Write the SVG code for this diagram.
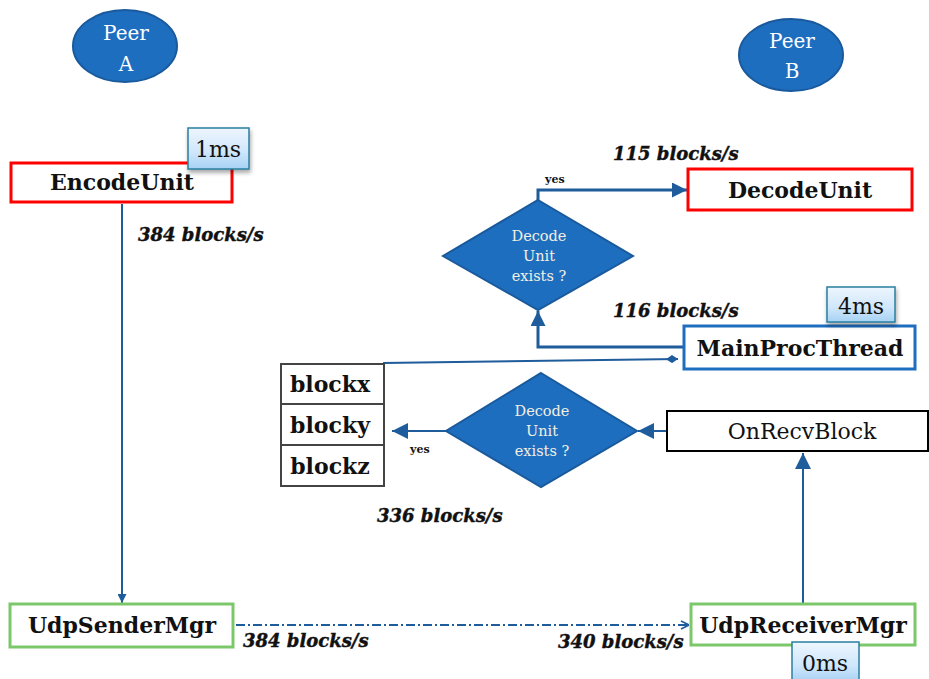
<svg xmlns="http://www.w3.org/2000/svg" width="929" height="679" viewBox="0 0 929 679">
<defs>
<linearGradient id="tag" x1="0" y1="0" x2="0" y2="1">
<stop offset="0" stop-color="#eef6fe"/>
<stop offset="0.6" stop-color="#cfe6fb"/>
<stop offset="1" stop-color="#a6d1f4"/>
</linearGradient>
<filter id="sh" x="-20%" y="-20%" width="150%" height="160%">
<feDropShadow dx="1" dy="3" stdDeviation="2" flood-color="#000" flood-opacity="0.35"/>
</filter>
<marker id="tri" viewBox="0 0 10 10" refX="10" refY="5" markerWidth="5" markerHeight="5" orient="auto" markerUnits="strokeWidth">
<path d="M0,0 L10,5 L0,10 z" fill="#1f5c9c"/>
</marker>
<marker id="tri2" viewBox="0 0 10 10" refX="10" refY="5" markerWidth="9" markerHeight="9" orient="auto" markerUnits="userSpaceOnUse">
<path d="M0,0 L10,5 L0,10 z" fill="#1f5c9c"/>
</marker>
<marker id="tri3" viewBox="0 0 10 10" refX="10" refY="5" markerWidth="16" markerHeight="16" orient="auto" markerUnits="userSpaceOnUse">
<path d="M0,0 L10,5 L0,10 z" fill="#1f5c9c"/>
</marker>
<marker id="dia" viewBox="0 0 12 8" refX="12" refY="4" markerWidth="12" markerHeight="8" orient="auto" markerUnits="userSpaceOnUse">
<path d="M0,4 L6,0 L12,4 L6,8 z" fill="#1f5c9c"/>
</marker>
<marker id="open" viewBox="0 0 10 10" refX="10" refY="5" markerWidth="10" markerHeight="10" orient="auto" markerUnits="userSpaceOnUse">
<path d="M2,1 L10,5 L2,9" fill="none" stroke="#1f5c9c" stroke-width="1.6"/>
</marker>
</defs>
<style>
.peer{fill:#1e6ec0;stroke:#1a5a9c;stroke-width:2}
.pt{font-family:"DejaVu Serif","Liberation Serif",serif;font-size:20px;fill:#ffffff;text-anchor:middle}
.box{fill:#ffffff;stroke-width:3}
.red{stroke:#ff0000}
.green{stroke:#7cc76a}
.blue{stroke:#1e6ec0}
.blk{stroke:#000000;stroke-width:2}
.gray{stroke:#444444;stroke-width:2}
.bt{font-family:"DejaVu Serif","Liberation Serif",serif;font-size:22px;font-weight:bold;fill:#111;text-anchor:middle}
.nt{font-family:"DejaVu Serif","Liberation Serif",serif;font-size:22px;fill:#111;text-anchor:middle}
.tag{fill:url(#tag);stroke:#2a7f9e;stroke-width:1.5}
.tt{font-family:"DejaVu Serif","Liberation Serif",serif;font-size:22px;fill:#111;text-anchor:middle}
.dm{fill:#1e6ec0;stroke:#1a5a9c;stroke-width:2}
.dt{font-family:"DejaVu Serif","Liberation Serif",serif;font-size:14.5px;fill:#f3efe2;text-anchor:middle}
.rate{font-family:"DejaVu Serif","Liberation Serif",serif;font-size:18px;font-weight:bold;font-style:italic;fill:#111;stroke:#111;stroke-width:0.4}
.yes{font-family:"DejaVu Serif","Liberation Serif",serif;font-size:11px;font-weight:bold;fill:#111}
.c{fill:none;stroke:#1f5c9c;stroke-width:2}
</style>

<g id="connectors">
<line class="c" x1="122" y1="204" x2="122" y2="603" marker-end="url(#tri2)"/>
<line class="c" x1="236" y1="625" x2="689" y2="625" stroke-dasharray="9 3 2 3" marker-end="url(#open)"/>
<line class="c" x1="803" y1="604" x2="803" y2="453" marker-end="url(#tri3)"/>
<line class="c" x1="667" y1="431" x2="638" y2="431" marker-end="url(#tri3)"/>
<line class="c" x1="446" y1="431" x2="392" y2="431" marker-end="url(#tri3)"/>
<line class="c" x1="383" y1="363" x2="678" y2="359" marker-end="url(#dia)"/>
<polyline class="c" style="stroke-width:3" points="684,347 538,347 538,311" marker-end="url(#tri)"/>
<polyline class="c" style="stroke-width:3" points="538,200 538,190 687,190" marker-end="url(#tri)"/>
</g>

<g id="peerA">
<ellipse class="peer" cx="125" cy="46" rx="52" ry="36"/>
<text class="pt" x="126" y="40">Peer</text>
<text class="pt" x="126" y="71">A</text>
</g>
<g id="peerB">
<ellipse class="peer" cx="791" cy="55" rx="52" ry="36"/>
<text class="pt" x="792" y="48">Peer</text>
<text class="pt" x="792" y="78">B</text>
</g>

<g id="encodeUnit">
<rect class="box red" x="11" y="163" width="221" height="39"/>
<text class="bt" x="122" y="190">EncodeUnit</text>
</g>
<g id="tag1ms">
<rect class="tag" filter="url(#sh)" x="188" y="128" width="61" height="41"/>
<text class="tt" x="218" y="157">1ms</text>
</g>

<g id="decodeUnit">
<rect class="box red" x="688" y="169" width="224" height="41"/>
<text class="bt" x="800" y="198">DecodeUnit</text>
</g>

<g id="decision1">
<polygon class="dm" points="538,200 633,256 538,310 443,256"/>
<text class="dt" x="539" y="241">Decode</text>
<text class="dt" x="539" y="261">Unit</text>
<text class="dt" x="539" y="281">exists ?</text>
</g>

<g id="mainProcThread">
<rect class="box blue" x="684" y="326" width="231" height="43"/>
<text class="bt" x="800" y="356">MainProcThread</text>
</g>
<g id="tag4ms">
<rect class="tag" filter="url(#sh)" x="827" y="287" width="68" height="35"/>
<text class="tt" x="861" y="314">4ms</text>
</g>

<g id="blocks">
<rect class="box gray" x="281" y="364" width="103" height="40"/>
<rect class="box gray" x="281" y="404" width="103" height="41"/>
<rect class="box gray" x="281" y="445" width="103" height="41"/>
<text class="bt" x="330" y="392">blockx</text>
<text class="bt" x="330" y="433">blocky</text>
<text class="bt" x="330" y="474">blockz</text>
</g>

<g id="decision2">
<polygon class="dm" points="541,373 637,431 541,487 446,431"/>
<text class="dt" x="542" y="416">Decode</text>
<text class="dt" x="542" y="436">Unit</text>
<text class="dt" x="542" y="456">exists ?</text>
</g>

<g id="onRecvBlock">
<rect class="box blk" x="667" y="411" width="261" height="40"/>
<text class="nt" x="802" y="439">OnRecvBlock</text>
</g>

<g id="udpSenderMgr">
<rect class="box green" x="10" y="604" width="223" height="43"/>
<text class="bt" x="122" y="633">UdpSenderMgr</text>
</g>

<g id="udpReceiverMgr">
<rect class="box green" x="691" y="604" width="224" height="41"/>
<text class="bt" x="803" y="633">UdpReceiverMgr</text>
</g>
<g id="tag0ms">
<rect class="tag" x="792" y="642" width="67" height="40"/>
<text class="tt" x="825" y="671">0ms</text>
</g>

<g id="labels">
<text class="rate" x="138" y="241">384 blocks/s</text>
<text class="rate" x="613" y="160">115 blocks/s</text>
<text class="rate" x="613" y="317">116 blocks/s</text>
<text class="rate" x="377" y="522">336 blocks/s</text>
<text class="rate" x="243" y="647">384 blocks/s</text>
<text class="rate" x="558" y="648">340 blocks/s</text>
<text class="yes" x="545" y="183">yes</text>
<text class="yes" x="410" y="453">yes</text>
</g>
</svg>
